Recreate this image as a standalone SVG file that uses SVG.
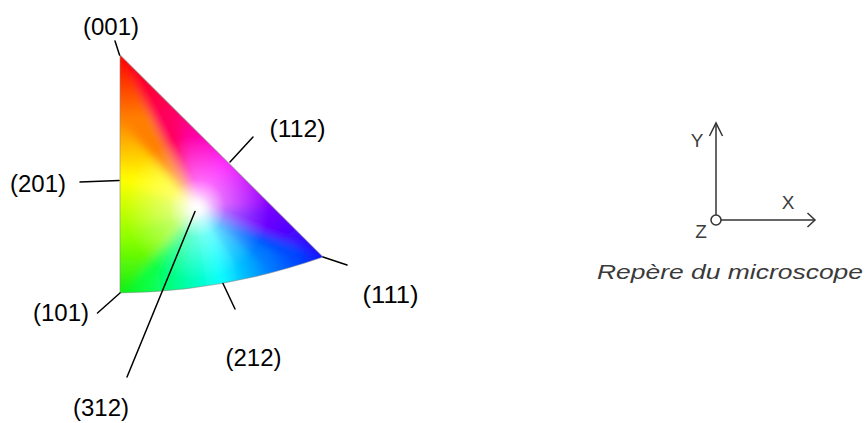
<svg xmlns="http://www.w3.org/2000/svg" width="866" height="423" viewBox="0 0 866 423">
<style>
.lbl{font-family:"Liberation Sans",Arial,sans-serif;font-size:23px;fill:#000;text-anchor:middle}
.ax{font-family:"Liberation Sans",Arial,sans-serif;font-size:19px;fill:#3c3c3c;text-anchor:middle}
.cap{font-family:"Liberation Sans",Arial,sans-serif;font-size:21px;font-style:italic;fill:#3a3a3a}
.lead{stroke:#000;stroke-width:1.5;fill:none;stroke-linecap:round}
.axis{stroke:#333;stroke-width:1.5;fill:none}
</style>
<defs>
<clipPath id="tri"><path d="M120,55 L323,257 Q222,292 120,293 Z"/></clipPath>
<filter id="soft" x="-20%" y="-20%" width="140%" height="140%"><feGaussianBlur stdDeviation="4"/></filter>
<linearGradient id="g1" gradientUnits="userSpaceOnUse" x1="120" y1="55" x2="174.8" y2="109.5"><stop offset="0" stop-color="#ff0000"/><stop offset="1" stop-color="#ff0060"/></linearGradient>
<linearGradient id="g2" gradientUnits="userSpaceOnUse" x1="174.8" y1="109.5" x2="227.6" y2="162.1"><stop offset="0" stop-color="#ff0060"/><stop offset="1" stop-color="#ff00ff"/></linearGradient>
<linearGradient id="g3" gradientUnits="userSpaceOnUse" x1="227.6" y1="162.1" x2="276.3" y2="210.5"><stop offset="0" stop-color="#ff00ff"/><stop offset="1" stop-color="#7000ff"/></linearGradient>
<linearGradient id="g4" gradientUnits="userSpaceOnUse" x1="276.3" y1="210.5" x2="323" y2="257"><stop offset="0" stop-color="#7000ff"/><stop offset="1" stop-color="#1010ff"/></linearGradient>
<linearGradient id="g5" gradientUnits="userSpaceOnUse" x1="323" y1="257" x2="297.7" y2="265.2"><stop offset="0" stop-color="#1010ff"/><stop offset="1" stop-color="#0048ff"/></linearGradient>
<linearGradient id="g6" gradientUnits="userSpaceOnUse" x1="297.7" y1="265.2" x2="272.4" y2="272.4"><stop offset="0" stop-color="#0048ff"/><stop offset="1" stop-color="#0078ff"/></linearGradient>
<linearGradient id="g7" gradientUnits="userSpaceOnUse" x1="272.4" y1="272.4" x2="247.1" y2="278.5"><stop offset="0" stop-color="#0078ff"/><stop offset="1" stop-color="#00b8ff"/></linearGradient>
<linearGradient id="g8" gradientUnits="userSpaceOnUse" x1="247.1" y1="278.5" x2="221.8" y2="283.5"><stop offset="0" stop-color="#00b8ff"/><stop offset="1" stop-color="#10ffff"/></linearGradient>
<linearGradient id="g9" gradientUnits="userSpaceOnUse" x1="221.8" y1="283.5" x2="196.4" y2="287.5"><stop offset="0" stop-color="#10ffff"/><stop offset="1" stop-color="#00ffc0"/></linearGradient>
<linearGradient id="g10" gradientUnits="userSpaceOnUse" x1="196.4" y1="287.5" x2="170.9" y2="290.4"><stop offset="0" stop-color="#00ffc0"/><stop offset="1" stop-color="#00ff80"/></linearGradient>
<linearGradient id="g11" gradientUnits="userSpaceOnUse" x1="170.9" y1="290.4" x2="145.5" y2="292.2"><stop offset="0" stop-color="#00ff80"/><stop offset="1" stop-color="#10ff40"/></linearGradient>
<linearGradient id="g12" gradientUnits="userSpaceOnUse" x1="145.5" y1="292.2" x2="120" y2="293"><stop offset="0" stop-color="#10ff40"/><stop offset="1" stop-color="#10ee10"/></linearGradient>
<linearGradient id="g13" gradientUnits="userSpaceOnUse" x1="120" y1="293" x2="120" y2="237"><stop offset="0" stop-color="#10ee10"/><stop offset="1" stop-color="#90ff00"/></linearGradient>
<linearGradient id="g14" gradientUnits="userSpaceOnUse" x1="120" y1="237" x2="120" y2="180"><stop offset="0" stop-color="#90ff00"/><stop offset="1" stop-color="#ffff00"/></linearGradient>
<linearGradient id="g15" gradientUnits="userSpaceOnUse" x1="120" y1="180" x2="120" y2="118"><stop offset="0" stop-color="#ffff00"/><stop offset="1" stop-color="#ff8000"/></linearGradient>
<linearGradient id="g16" gradientUnits="userSpaceOnUse" x1="120" y1="118" x2="120" y2="55"><stop offset="0" stop-color="#ff8000"/><stop offset="1" stop-color="#ff0000"/></linearGradient>
<radialGradient id="white" gradientUnits="userSpaceOnUse" cx="197" cy="208" r="72">
<stop offset="0" stop-color="#fff" stop-opacity="1"/>
<stop offset="0.1" stop-color="#fff" stop-opacity="0.9"/>
<stop offset="0.4" stop-color="#fff" stop-opacity="0.4"/>
<stop offset="1" stop-color="#fff" stop-opacity="0"/>
</radialGradient>
</defs>

<g id="stereo-triangle">
<g clip-path="url(#tri)">
<g filter="url(#soft)" stroke-width="1.2">
<path d="M197,208 L96.9,9.1 L168.1,80 Z" fill="url(#g1)" stroke="url(#g1)"/>
<path d="M197,208 L168.1,80 L236.8,148.3 Z" fill="url(#g2)" stroke="url(#g2)"/>
<path d="M197,208 L236.8,148.3 L300.1,211.3 Z" fill="url(#g3)" stroke="url(#g3)"/>
<path d="M197,208 L300.1,211.3 L360.8,271.7 Z" fill="url(#g4)" stroke="url(#g4)"/>
<path d="M197,208 L360.8,271.7 L327.9,282.4 Z" fill="url(#g5)" stroke="url(#g5)"/>
<path d="M197,208 L327.9,282.4 L295,291.7 Z" fill="url(#g6)" stroke="url(#g6)"/>
<path d="M197,208 L295,291.7 L262.1,299.7 Z" fill="url(#g7)" stroke="url(#g7)"/>
<path d="M197,208 L262.1,299.7 L229.2,306.2 Z" fill="url(#g8)" stroke="url(#g8)"/>
<path d="M197,208 L229.2,306.2 L196.2,311.4 Z" fill="url(#g9)" stroke="url(#g9)"/>
<path d="M197,208 L196.2,311.4 L163.1,315.1 Z" fill="url(#g10)" stroke="url(#g10)"/>
<path d="M197,208 L163.1,315.1 L130,317.5 Z" fill="url(#g11)" stroke="url(#g11)"/>
<path d="M197,208 L130,317.5 L96.9,318.5 Z" fill="url(#g12)" stroke="url(#g12)"/>
<path d="M197,208 L96.9,318.5 L96.9,245.7 Z" fill="url(#g13)" stroke="url(#g13)"/>
<path d="M197,208 L96.9,245.7 L96.9,171.6 Z" fill="url(#g14)" stroke="url(#g14)"/>
<path d="M197,208 L96.9,171.6 L96.9,91 Z" fill="url(#g15)" stroke="url(#g15)"/>
<path d="M197,208 L96.9,91 L96.9,9.1 Z" fill="url(#g16)" stroke="url(#g16)"/>
</g>
<rect x="100" y="40" width="240" height="270" fill="url(#white)"/>
</g>
<path d="M120,55 L323,257 Q222,292 120,293 Z" fill="none" stroke="#8a8a8a" stroke-opacity="0.5" stroke-width="1.2"/>
</g>

<g id="connectors">
<line class="lead" x1="115" y1="41" x2="119.5" y2="55"/>
<line class="lead" x1="230" y1="162" x2="253" y2="137"/>
<line class="lead" x1="80" y1="182" x2="119" y2="180.5"/>
<line class="lead" x1="120" y1="293" x2="97.5" y2="313"/>
<line class="lead" x1="323" y1="257" x2="347" y2="265"/>
<line class="lead" x1="223" y1="283.5" x2="235" y2="309"/>
<line class="lead" x1="195" y1="211.5" x2="127" y2="377"/>
</g>

<g id="label-001"><text class="lbl" x="111" y="35" textLength="56" lengthAdjust="spacingAndGlyphs">(001)</text></g>
<g id="label-112"><text class="lbl" x="297.5" y="137" textLength="56" lengthAdjust="spacingAndGlyphs">(112)</text></g>
<g id="label-201"><text class="lbl" x="38" y="192" textLength="56" lengthAdjust="spacingAndGlyphs">(201)</text></g>
<g id="label-101"><text class="lbl" x="61" y="321" textLength="56" lengthAdjust="spacingAndGlyphs">(101)</text></g>
<g id="label-111"><text class="lbl" x="390.5" y="303" textLength="56" lengthAdjust="spacingAndGlyphs">(111)</text></g>
<g id="label-212"><text class="lbl" x="253.5" y="366" textLength="56" lengthAdjust="spacingAndGlyphs">(212)</text></g>
<g id="label-312"><text class="lbl" x="101" y="416" textLength="56" lengthAdjust="spacingAndGlyphs">(312)</text></g>

<g id="axes">
<line class="axis" x1="716" y1="215" x2="716" y2="123"/>
<polyline class="axis" points="709.5,136 716,123 722.5,136"/>
<line class="axis" x1="721" y1="220" x2="815" y2="220"/>
<polyline class="axis" points="807.5,213 815,220 807.5,227"/>
<circle class="axis" cx="716" cy="220" r="5"/>
<text class="ax" x="697" y="147">Y</text>
<text class="ax" x="788" y="209">X</text>
<text class="ax" x="701" y="238">Z</text>
</g>
<g id="caption"><text class="cap" x="597" y="279" textLength="266" lengthAdjust="spacingAndGlyphs">Repère du microscope</text></g>
</svg>
